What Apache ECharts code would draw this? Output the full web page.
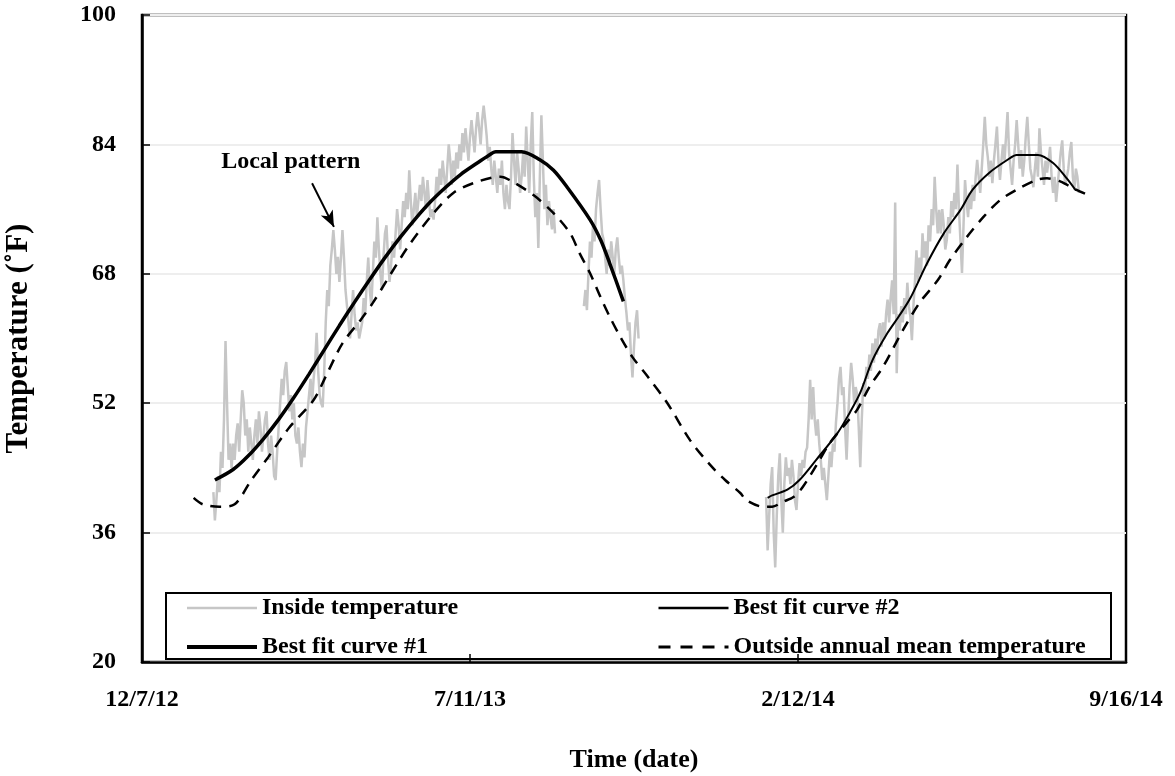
<!DOCTYPE html>
<html>
<head>
<meta charset="utf-8">
<script src="https://cdn.jsdelivr.net/npm/echarts@6/dist/echarts.min.js"></script>
<style>html,body{margin:0;padding:0;background:#fff;}#c{width:1175px;height:776px;}</style>
</head>
<body>
<div id="c"></div>
<script>
// x values are days since 12/7/12
const xTickLabels = ['12/7/12', '7/11/13', '2/12/14', '9/16/14'];
const yTicks = [20, 36, 52, 68, 84, 100];

// Inside temperature: [day, °F]; null marks a gap in the record
const insideTemp = [
[47,41],[48,37.5],[49,40],[50,43],[51,41],[52,46],[53,44],[54,50],[55,59.7],[56,52],[57,45],[58,47],[59,44],[60,47],[61,45],[62,48],[63,49.5],[64,46],[65,50],[66,53.6],[67,52],[68,48],[69,50],[70,46],[71,49],[72,47],[73,45],[74,48],[75,50],[76,47],[77,51],[78,49],[79,46],[80,48],[81,50],[82,51],[83,47],[84,45],[85,48],[86,46],[87,43],[88,42.5],[89,46],[90,49],[91,52],[92,55],[93,53],[94,56],[95,57.1],[96,54],[97,51],[98,53],[99,50],[100,52],[101,48],[102,47],[103,49],[104,46],[105,44.1],[106,47],[107,45.3],[108,49],[109,51],[110,53],[111,55],[112,52],[113,55],[114,57],[115,60.7],[116,56],[117,53],[118,52],[119,51.5],[120,56],[121,62],[122,66],[123,64],[124,69],[125,71],[126,73.4],[127,71],[128,68],[129,70.1],[130,67],[131,70],[132,73.4],[133,70],[134,66],[135,64],[136,62],[137,60],[138,63],[139,66],[140,63],[141,61],[142,62],[143,60],[144,59.8],[145,62],[146,65],[147,63],[148,67],[149,70],[150,66],[151,64],[152,68],[153,72],[154,70],[155,75],[156,71],[157,68],[158,66],[159,70],[160,73],[161,74],[162,70],[163,67],[164,69],[165,72],[166,70],[167,73],[168,76],[169,74],[170,71],[171,74],[172,77],[173,75],[174,78],[175,76],[176,80.8],[177,77],[178,74],[179,76],[180,78],[181,75],[182,77],[183,79],[184,77],[185,80],[186,78],[187,76],[188,79.6],[189,77],[190,75],[191,76],[192,74.7],[193,77],[194,80],[195,78],[196,81],[197,79],[198,82],[199,80],[200,78],[201,81],[202,84],[203,82],[204,79],[205,82],[206,80],[207,83],[208,81],[209,84],[210,82],[211,85.4],[212,83],[213,86],[214,84],[215,82],[216,85],[217,87],[218,85],[219,83],[220,86],[221,88],[222,86],[223,84],[224,87],[225,88.8],[226,87],[227,85],[228,82],[229,83.7],[230,81],[231,79],[232,82],[233,80],[234,78],[235,81],[236,79],[237,82],[238,78],[239,76],[240,79],[241,77],[242,76],[243,80],[244,85.4],[245,82],[246,79],[247,83],[248,81],[249,78],[250,80],[251,83],[252,80],[253,86.2],[254,82],[255,78],[256,84],[257,88],[258,80],[259,75],[260,78],[261,71.2],[262,80],[263,87.6],[264,82],[265,76],[266,79],[267,74],[268,77],[269,75],[270,73.5],[271,76],[272,73],
[281,null],
[291,64],[292,66],[293,63.5],[294,68],[295,72],[296,70],[297,74],[298,72],[299,76],[300,78],[301,79.6],[302,76],[303,73],[304,72.2],[305,70],[306,68],[307,71],[308,69],[309,72],[310,70],[311,68],[312,71],[313,72.5],[314,70],[315,68],[316,69],[317,67.2],[318,65],[319,63.2],[320,61],[321,62],[322,58],[323,55.2],[324,59],[325,62],[326,63.5],[327,60],
[370,null],
[411,40.4],[412,33.8],[413,38],[414,42],[415,44.1],[416,36],[417,31.7],[418,38],[419,43],[420,45.8],[421,40],[422,36],[423,42],[424,45.3],[425,43],[426,44],[427,42],[428,45],[429,43],[430,40],[431,38.8],[432,42],[433,44.6],[434,43],[435,45],[436,44],[437,46],[438,46.5],[439,50],[440,54.9],[441,50],[442,54],[443,50],[444,48],[445,50],[446,47],[447,45],[448,42.5],[449,44],[450,42],[451,40],[452,43],[453,46],[454,44.1],[455,47],[456,46],[457,49.6],[458,52],[459,55],[460,56.5],[461,53],[462,54],[463,49],[464,45],[465,50],[466,54],[467,57],[468,55],[469,52],[470,54],[471,53],[472,49],[473,44.1],[474,50],[475,54.5],[476,53],[477,56.5],[478,55],[479,58],[480,56],[481,59.4],[482,57],[483,60],[484,58],[485,61],[486,61.9],[487,59],[488,62],[489,60],[490,63],[491,64.8],[492,62],[493,65],[494,67.2],[495,63],[496,76.8],[497,55.7],[498,63],[499,61],[500,64],[501,62],[502,65],[503,63],[504,66.9],[505,64],[506,62.7],[507,59.8],[508,64],[509,67],[510,70.9],[511,67],[512,70],[513,68],[514,73],[515,70],[516,72],[517,69],[518,74],[519,72],[520,76],[521,74],[522,80],[523,76],[524,73],[525,75.9],[526,73],[527,76],[528,74],[529,71],[530,72.2],[531,75],[532,73],[533,77],[534,75],[535,78],[536,76],[537,81.5],[538,76],[539,72],[540,68.1],[541,74],[542,79.6],[543,77],[544,75],[545,78],[546,76],[547,79],[548,77],[549,80],[550,82.1],[551,80],[552,78],[553,81],[554,84],[555,87.4],[556,84],[557,82.4],[558,80],[559,82],[560,79.2],[561,82],[562,84],[563,86.2],[564,82],[565,79.6],[566,82],[567,84],[568,82],[569,85],[570,88],[571,83],[572,81],[573,79],[574,82],[575,84],[576,87],[577,84],[578,81],[579,83.3],[580,80],[581,82],[582,85],[583,87.4],[584,84],[585,81],[586,80],[587,78.7],[588,81],[589,83],[590,80],[591,86],[592,83],[593,81],[594,79],[595,82],[596,80.5],[597,82],[598,83.7],[599,80],[600,78],[601,80],[602,76.9],[603,79],[604,81],[605,83],[606,84.5],[607,81],[608,79],[609,79],[610,81],[611,83],[612,84.3],[613,80],[614,78.4],[615,81],[616,80],[617,78]
];

const bestFit1 = [
[48,42.5],[60,43.8],[70,45.5],[80,47.6],[90,50.0],[100,52.7],[110,55.6],[120,58.6],[130,61.6],[140,64.5],[150,67.3],[160,70.0],[170,72.5],[180,74.8],[190,76.9],[200,78.7],[210,80.3],[220,81.6],[228,82.6],[233,83.1],[250,83.1],[262,82.1],[271,80.8],[280,78.7],[295,74.7],[302,72.2],[308,69.3],[317,64.6]
];

const bestFit2 = [
[412,40.3],[415,40.6],[425,41.3],[433,42.5],[444,45.0],[458,48.3],[466,50.8],[473,53.3],[481,57.3],[491,60.7],[499,62.9],[506,65.0],[517,69.3],[528,73.0],[539,75.9],[547,78.4],[558,80.5],[570,82.1],[576,82.7],[590,82.7],[600,81.7],[609,79.8],[615,78.3]
];

const outsideMean = [
[34,40.3],[40,39.5],[51,39.2],[61,39.5],[72,42.5],[83,45.3],[97,49.0],[113,52.4],[122,55.7],[132,59.4],[144,62.3],[152,64.4],[175,71.3],[192,75.5],[205,78.0],[218,79.2],[236,80.0],[242,79.6],[258,77.7],[271,75.5],[282,73.0],[288,70.6],[295,68.1],[302,65.1],[308,62.7],[315,60.2],[323,57.7],[333,55.3],[346,52.0],[361,47.4],[374,44.4],[384,42.5],[394,40.9],[398,40.0],[409,39.2],[415,39.2],[422,39.8],[429,40.4],[435,41.6],[445,44.6],[453,47.1],[464,49.6],[471,51.2],[479,54.0],[488,56.5],[501,61.0],[512,64.4],[524,67.2],[532,69.7],[543,72.5],[554,75.0],[565,77.1],[576,78.4],[589,79.6],[596,79.8],[605,79.4],[613,78.6],[621,77.9]
];

// annotation anchor points (data space)
const noteText = 'Local pattern';
const noteLabelAt = [98, 81.9];
const noteArrowFrom = [112, 79.2];
const noteArrowTo = [126.4, 73.8];

const FONT = 'Liberation Serif';
const chart = echarts.init(document.getElementById('c'), null, {renderer: 'canvas'});
const legendText = {fontFamily: FONT, fontWeight: 'bold', fontSize: 24, color: '#000'};
const legendCommon = {orient: 'vertical', top: 596, padding: 0, itemWidth: 70, itemHeight: 20, itemGap: 15,
  textStyle: legendText, selectedMode: false, itemStyle: {color: 'transparent', borderWidth: 0, opacity: 0}};

chart.setOption({
  animation: false,
  backgroundColor: '#fff',
  grid: {left: 142, right: 49, top: 15, bottom: 114, show: true, borderColor: '#000', borderWidth: 2.5,
    backgroundColor: 'transparent', containLabel: false, outerBoundsMode: 'none'},
  xAxis: {
    type: 'value', min: 0, max: 648, interval: 216,
    name: 'Time (date)', nameLocation: 'middle', nameGap: 85,
    nameTextStyle: {fontFamily: FONT, fontWeight: 'bold', fontSize: 26, color: '#000'},
    axisLine: {show: true, onZero: false, lineStyle: {color: '#000', width: 2.5}},
    axisTick: {show: true, inside: true, length: 8, lineStyle: {color: '#000', width: 1.5}},
    axisLabel: {margin: 26, fontFamily: FONT, fontWeight: 'bold', fontSize: 24, color: '#000',
      formatter: v => xTickLabels[Math.round(v / 216)] || ''},
    splitLine: {show: false}
  },
  yAxis: {
    type: 'value', min: 20, max: 100, interval: 16,
    name: 'Temperature (˚F)', nameLocation: 'middle', nameGap: 108, nameRotate: 90,
    nameTextStyle: {fontFamily: FONT, fontWeight: 'bold', fontSize: 31, color: '#000'},
    axisLine: {show: true, onZero: false, lineStyle: {color: '#000', width: 2.5}},
    axisTick: {show: true, inside: true, length: 8, lineStyle: {color: '#000', width: 1.5}},
    axisLabel: {margin: 26, fontFamily: FONT, fontWeight: 'bold', fontSize: 24, color: '#000'},
    splitLine: {show: true, lineStyle: {color: '#eeeeee', width: 2}}
  },
  legend: [
    Object.assign({left: 185, data: [
      {name: 'Inside temperature', lineStyle: {width: 2.5, color: '#c6c6c6'}},
      {name: 'Best fit curve #1', lineStyle: {width: 4, color: '#000'}}]}, legendCommon),
    Object.assign({left: 657, data: [
      {name: 'Best fit curve #2', lineStyle: {width: 2.5, color: '#000'}},
      {name: 'Outside annual mean temperature', lineStyle: {width: 3, color: '#000', type: [12, 10]}}]}, legendCommon)
  ],
  graphic: [{
    type: 'rect', left: 165, top: 592, z: 50,
    shape: {width: 945, height: 66},
    style: {fill: 'transparent', stroke: '#000', lineWidth: 2}
  }],
  series: [
    {name: 'Inside temperature', type: 'line', data: insideTemp, showSymbol: false, symbol: 'none',
     connectNulls: false, lineStyle: {color: '#c6c6c6', width: 2.5}, itemStyle: {color: '#c6c6c6'}, z: 1,
     markLine: {silent: true, symbol: ['none', 'arrow'], symbolSize: [10, 16], label: {show: false},
       lineStyle: {color: '#000', width: 2, type: 'solid'},
       data: [[{coord: noteArrowFrom}, {coord: noteArrowTo}]]},
     markPoint: {silent: true, symbol: 'circle', symbolSize: 1, itemStyle: {color: 'transparent'},
       label: {show: true, position: 'inside', formatter: noteText, fontFamily: FONT, fontWeight: 'bold', fontSize: 24, color: '#000'},
       data: [{coord: noteLabelAt}]}
    },
    {name: 'Outside annual mean temperature', type: 'line', data: outsideMean, showSymbol: false, symbol: 'none',
     smooth: 0.3, lineStyle: {color: '#000', width: 2.5, type: [11, 8]}, itemStyle: {color: '#000'}, z: 3},
    {name: 'Best fit curve #1', type: 'line', data: bestFit1, showSymbol: false, symbol: 'none',
     smooth: 0.3, lineStyle: {color: '#000', width: 3.5}, itemStyle: {color: '#000'}, z: 4},
    {name: 'Best fit curve #2', type: 'line', data: bestFit2, showSymbol: false, symbol: 'none',
     smooth: 0.3, lineStyle: {color: '#000', width: 2}, itemStyle: {color: '#000'}, z: 4}
  ]
});
</script>
</body>
</html>
